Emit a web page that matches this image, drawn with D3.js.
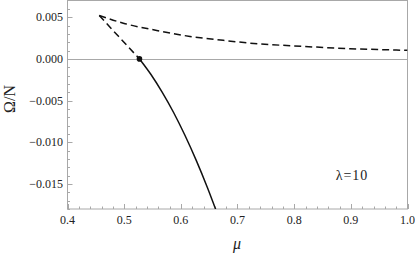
<!DOCTYPE html>
<html><head><meta charset="utf-8">
<script src="https://cdn.jsdelivr.net/npm/d3@7"></script>
<style>body{margin:0;background:#fff}svg{display:block}text{font-family:"Liberation Serif","Times New Roman",serif;fill:#222}</style>
</head><body><svg id="c" width="415" height="254"></svg>
<script>
const xTicks=[0.4,0.5,0.6,0.7,0.8,0.9,1.0];
const yTicks=[0.005,0.000,-0.005,-0.010,-0.015];
const upperMu=[0.456,0.4985,0.5574,0.6162,0.6749,0.722,0.7808,0.8397,0.8985,0.9573,1.0];
const upperOm=[0.00521,0.00428,0.00341,0.00269,0.00222,0.00189,0.00162,0.00141,0.00122,0.00110,0.00102];
const lowerDashMu=[0.456,0.49,0.527];
const lowerDashOm=[0.00521,0.0027,0.0];
const solidMu=[0.527,0.547,0.567,0.587,0.607,0.627,0.647,0.667];
const solidOm=[0.0,-0.00184,-0.00398,-0.0064,-0.00913,-0.01214,-0.01545,-0.01905];
const pointMu=[0.527], pointOm=[0.0];
const label="λ=10";

const W=415,H=254,m={l:67.5,r:7.5,t:0.5,b:45};
const svg=d3.select("#c");
const x=d3.scaleLinear().domain([0.4,1.0]).range([m.l,W-m.r]);
const y=d3.scaleLinear().domain([-0.018,0.007]).range([H-m.b,m.t]);
const grey="#a8a8a8";
svg.append("clipPath").attr("id","cl").append("rect").attr("x",m.l).attr("y",m.t).attr("width",W-m.r-m.l).attr("height",H-m.b-m.t);
// zero line
svg.append("line").attr("x1",m.l).attr("x2",W-m.r).attr("y1",Math.round(y(0))+0.5).attr("y2",Math.round(y(0))+0.5).attr("stroke",grey).attr("stroke-width",1);
// frame
svg.append("rect").attr("x",m.l).attr("y",m.t).attr("width",W-m.r-m.l).attr("height",H-m.b-m.t).attr("fill","none").attr("stroke",grey).attr("stroke-width",1);
// ticks
const fmtX=d=>d.toFixed(1), fmtY=d=>(d<0?"\u2212":"")+Math.abs(d).toFixed(3);
const xMinor=d3.range(0.4,1.0001,0.02);
const yMinor=d3.range(-0.018,0.0070001,0.001);
const ax=svg.append("g");
ax.selectAll(".xm").data(xMinor).join("line").attr("x1",d=>Math.round(x(d))+0.5).attr("x2",d=>Math.round(x(d))+0.5).attr("y1",H-m.b).attr("y2",H-m.b-2.5).attr("stroke",grey);
ax.selectAll(".xM").data(xTicks).join("line").attr("x1",d=>Math.round(x(d))+0.5).attr("x2",d=>Math.round(x(d))+0.5).attr("y1",H-m.b).attr("y2",H-m.b-5).attr("stroke",grey);
ax.selectAll(".ym").data(yMinor).join("line").attr("y1",d=>Math.round(y(d))+0.5).attr("y2",d=>Math.round(y(d))+0.5).attr("x1",m.l).attr("x2",m.l+2.5).attr("stroke",grey);
ax.selectAll(".yM").data(yTicks).join("line").attr("y1",d=>Math.round(y(d))+0.5).attr("y2",d=>Math.round(y(d))+0.5).attr("x1",m.l).attr("x2",m.l+5).attr("stroke",grey);
ax.selectAll(".xl").data(xTicks).join("text").attr("x",d=>x(d)).attr("y",H-m.b+15).attr("text-anchor","middle").attr("font-size",12).text(fmtX);
ax.selectAll(".yl").data(yTicks).join("text").attr("x",m.l-4.5).attr("y",d=>y(d)+4).attr("text-anchor","end").attr("font-size",12).text(fmtY);
// titles
svg.append("text").attr("x",237).attr("y",249).attr("text-anchor","middle").attr("font-size",16).attr("font-style","italic").text("μ");
svg.append("text").attr("transform","translate(15,99) rotate(-90)").attr("text-anchor","middle").attr("font-size",16).text("Ω/N");
svg.append("text").attr("x",352).attr("y",180).attr("text-anchor","middle").attr("font-size",14).attr("letter-spacing",1).text(label);
// curves
const line=d3.line().x(d=>x(d[0])).y(d=>y(d[1])).curve(d3.curveMonotoneX);
const g=svg.append("g").attr("clip-path","url(#cl)");
g.append("path").attr("d",line(d3.zip(upperMu,upperOm))).attr("fill","none").attr("stroke","#111").attr("stroke-width",1.5).attr("stroke-dasharray","7,4");
g.append("path").attr("d",line(d3.zip(lowerDashMu,lowerDashOm))).attr("fill","none").attr("stroke","#111").attr("stroke-width",1.5).attr("stroke-dasharray","7,4");
g.append("path").attr("d",line(d3.zip(solidMu,solidOm))).attr("fill","none").attr("stroke","#111").attr("stroke-width",1.5);
g.selectAll(".pt").data(d3.zip(pointMu,pointOm)).join("circle").attr("cx",d=>x(d[0])).attr("cy",d=>y(d[1])).attr("r",2.8).attr("fill","#111");
</script></body></html>
